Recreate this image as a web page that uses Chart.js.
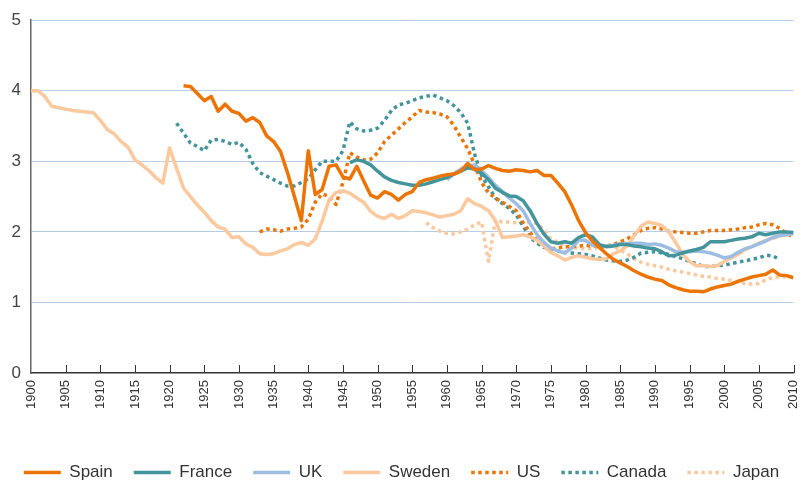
<!DOCTYPE html>
<html>
<head>
<meta charset="utf-8">
<script src="https://cdn.jsdelivr.net/npm/chart.js@4.4.0/dist/chart.umd.min.js"></script>
<style>
  html, body { margin: 0; padding: 0; background: #fff; }
</style>
</head>
<body>
<canvas id="fertilityChart" width="803" height="485"></canvas>
<script>
// Total fertility rate, births per woman
const xTicks = [1900, 1905, 1910, 1915, 1920, 1925, 1930, 1935, 1940, 1945, 1950, 1955,
  1960, 1965, 1970, 1975, 1980, 1985, 1990, 1995, 2000, 2005, 2010];
const yTicks = [0, 1, 2, 3, 4, 5];

const spainStart = 1922;
const spain = [
  4.07, 4.06, 3.96, 3.86, 3.92, 3.71, 3.81, 3.71,
  3.68, 3.57, 3.62, 3.55, 3.36, 3.28, 3.14, 2.84, 2.50, 2.16,
  3.15, 2.53, 2.60, 2.93, 2.95, 2.78, 2.75, 2.93, 2.72, 2.52,
  2.48, 2.57, 2.53, 2.45, 2.53, 2.57, 2.70, 2.74, 2.76, 2.79,
  2.81, 2.82, 2.86, 2.97, 2.88, 2.89, 2.94, 2.90, 2.87, 2.86,
  2.88, 2.87, 2.85, 2.87, 2.80, 2.80, 2.69, 2.57, 2.38, 2.16,
  1.99, 1.87, 1.78, 1.69, 1.61, 1.56, 1.51, 1.45, 1.40, 1.36,
  1.33, 1.31, 1.25, 1.21, 1.18, 1.16, 1.16, 1.15, 1.19, 1.22,
  1.24, 1.26, 1.30, 1.33, 1.36, 1.38, 1.40, 1.46, 1.39, 1.38, 1.35
];

const franceStart = 1946;
const france = [
  2.98, 3.02, 3.00, 2.95,
  2.86, 2.78, 2.73, 2.70, 2.68, 2.66, 2.66, 2.68, 2.71, 2.74,
  2.77, 2.82, 2.86, 2.91, 2.89, 2.83, 2.74, 2.62, 2.56, 2.51,
  2.50, 2.44, 2.30, 2.12, 1.97, 1.86, 1.84, 1.86, 1.84, 1.92,
  1.96, 1.93, 1.82, 1.79, 1.80, 1.82, 1.82, 1.80, 1.79, 1.77,
  1.76, 1.72, 1.66, 1.67, 1.70, 1.73, 1.75, 1.78, 1.86, 1.86,
  1.86, 1.88, 1.90, 1.91, 1.93, 1.98, 1.96, 1.98, 2.00, 2.00, 1.99
];

const ukStart = 1960;
const uk = [
  2.74, 2.82, 2.89, 2.93, 2.95, 2.87, 2.77, 2.66, 2.57, 2.48,
  2.40, 2.30, 2.12, 1.96, 1.85, 1.77, 1.73, 1.70, 1.77, 1.88,
  1.88, 1.81, 1.80, 1.80, 1.81, 1.83, 1.83, 1.84, 1.84, 1.82,
  1.83, 1.81, 1.77, 1.72, 1.71, 1.72, 1.73, 1.72, 1.70, 1.67,
  1.63, 1.65, 1.71, 1.76, 1.79, 1.83, 1.87, 1.92, 1.95, 1.96, 1.98
];

const swedenStart = 1900;
const sweden = [
  4.00, 4.00, 3.92, 3.78, 3.76, 3.74, 3.72, 3.71, 3.70, 3.69,
  3.58, 3.45, 3.39, 3.28, 3.20, 3.02, 2.95, 2.87, 2.77, 2.69,
  3.19, 2.90, 2.62, 2.50, 2.38, 2.28, 2.16, 2.07, 2.04, 1.92,
  1.93, 1.83, 1.78, 1.69, 1.68, 1.69, 1.73, 1.76, 1.82, 1.85,
  1.81, 1.90, 2.15, 2.45, 2.56, 2.58, 2.55, 2.48, 2.42, 2.29,
  2.22, 2.19, 2.25, 2.19, 2.23, 2.30, 2.29, 2.27, 2.24, 2.21,
  2.23, 2.25, 2.30, 2.47, 2.40, 2.36, 2.30, 2.16, 1.92, 1.93,
  1.94, 1.96, 1.93, 1.88, 1.80, 1.71, 1.66, 1.60, 1.64, 1.66,
  1.64, 1.62, 1.61, 1.62, 1.69, 1.73, 1.80, 1.94, 2.08, 2.14,
  2.12, 2.09, 2.00, 1.85, 1.68, 1.58, 1.52, 1.52, 1.51, 1.52,
  1.58, 1.63, 1.68, 1.75, 1.79, 1.84, 1.88, 1.91, 1.94, 1.96, 1.98
];

const usStart = 1933;
const us = [
  2.00, 2.04, 2.03, 2.01, 2.04, 2.05, 2.07,
  2.18, 2.42, 2.54, 2.50, 2.39, 2.70, 3.12, 3.06, 3.02, 3.03,
  3.12, 3.28, 3.37, 3.46, 3.55, 3.63, 3.72, 3.70, 3.69, 3.67,
  3.63, 3.51, 3.34, 3.18, 2.95, 2.70, 2.55, 2.48, 2.42, 2.36,
  2.30, 2.13, 1.99, 1.88, 1.80, 1.76, 1.77, 1.79, 1.79, 1.80,
  1.81, 1.80, 1.80, 1.80, 1.82, 1.86, 1.90, 1.96, 2.02, 2.05,
  2.06, 2.04, 2.01, 2.00, 1.99, 1.98, 1.98, 2.00, 2.02, 2.02,
  2.02, 2.03, 2.04, 2.06, 2.07, 2.10, 2.12, 2.10, 2.05, 1.98, 1.92
];

const canadaStart = 1921;
const canada = [
  3.54, 3.40, 3.26, 3.21, 3.15, 3.30, 3.31, 3.28, 3.24,
  3.27, 3.17, 2.97, 2.84, 2.79, 2.74, 2.69, 2.65, 2.65, 2.70,
  2.75, 2.88, 3.00, 3.00, 3.00, 3.15, 3.56, 3.46, 3.43, 3.44,
  3.47, 3.58, 3.72, 3.80, 3.82, 3.86, 3.90, 3.92, 3.94, 3.90,
  3.86, 3.79, 3.69, 3.54, 3.10, 2.80, 2.64, 2.48, 2.40, 2.33,
  2.24, 2.08, 1.92, 1.84, 1.78, 1.76, 1.73, 1.71, 1.70, 1.69,
  1.68, 1.66, 1.63, 1.60, 1.59, 1.58, 1.60, 1.64, 1.70, 1.71,
  1.72, 1.70, 1.68, 1.65, 1.62, 1.58, 1.55, 1.51, 1.51, 1.52,
  1.53, 1.55, 1.57, 1.59, 1.61, 1.63, 1.67, 1.66, 1.61
];

const japanStart = 1957;
const japan = [
  2.13, 2.06, 2.01,
  1.98, 1.97, 2.00, 2.04, 2.10, 2.14, 1.58, 2.17, 2.14, 2.14,
  2.13, 2.14, 2.14, 2.12, 2.03, 1.90, 1.85, 1.80, 1.78, 1.77,
  1.76, 1.76, 1.78, 1.79, 1.80, 1.74, 1.69, 1.62, 1.57, 1.54,
  1.52, 1.50, 1.47, 1.45, 1.43, 1.41, 1.39, 1.37, 1.36, 1.34,
  1.33, 1.31, 1.29, 1.27, 1.26, 1.27, 1.32, 1.35, 1.37, 1.36
];

const ORANGE = '#ec7404';
const TEAL = '#43959b';
const LIGHT_BLUE = '#9dbde2';
const PEACH = '#fcc89e';
const DOT = [3.5, 3.5];

//Turn a start year + values into {x, y} points
function toPoints(start, values) {
  return values.map((v, i) => ({ x: start + i, y: v }));
}

function series(label, start, values, color, dashed) {
  return {
    label: label,
    data: toPoints(start, values),
    borderColor: color,
    backgroundColor: color,
    borderWidth: 3.5,
    borderDash: dashed ? DOT : [],
    borderCapStyle: 'butt',
    borderJoinStyle: 'round',
    pointRadius: 0,
    tension: 0,
    fill: false
  };
}

//Legend entries drawn as short lines, dotted where the series is dotted
function legendLabels(chart) {
  return chart.data.datasets.map((ds, i) => ({
    text: ds.label,
    fillStyle: ds.borderColor,
    strokeStyle: ds.borderColor,
    lineWidth: ds.borderWidth,
    lineDash: ds.borderDash,
    lineCap: 'butt',
    pointStyle: 'line',
    fontColor: '#333',
    hidden: false,
    datasetIndex: i
  }));
}

//Short tick marks that point up into the plot from the x axis
const innerTicks = {
  id: 'innerTicks',
  afterDraw(chart) {
    const xScale = chart.scales.x;
    const ctx = chart.ctx;
    const bottom = chart.chartArea.bottom;
    ctx.save();
    ctx.strokeStyle = '#333';
    ctx.lineWidth = 1;
    xTicks.forEach(year => {
      if (year === xScale.min) return;
      const px = Math.round(xScale.getPixelForValue(year)) + 0.5;
      ctx.beginPath();
      ctx.moveTo(px, bottom - 8);
      ctx.lineTo(px, bottom);
      ctx.stroke();
    });
    ctx.restore();
  }
};

function createChart() {
  const ctx = document.getElementById('fertilityChart').getContext('2d');
  /* global Chart */
  return new Chart(ctx, {
    type: 'line',
    data: {
      datasets: [
        series('Spain', spainStart, spain, ORANGE, false),
        series('France', franceStart, france, TEAL, false),
        series('UK', ukStart, uk, LIGHT_BLUE, false),
        series('Sweden', swedenStart, sweden, PEACH, false),
        series('US', usStart, us, ORANGE, true),
        series('Canada', canadaStart, canada, TEAL, true),
        series('Japan', japanStart, japan, PEACH, true)
      ]
    },
    options: {
      responsive: false,
      animation: false,
      layout: { padding: { top: 18, right: 0, bottom: -6, left: 0 } },
      scales: {
        x: {
          type: 'linear',
          min: xTicks[0],
          max: xTicks[xTicks.length - 1],
          afterBuildTicks: scale => { scale.ticks = xTicks.map(v => ({ value: v })); },
          afterFit: scale => {
            scale.height = 70;
            scale.paddingLeft = 0;
            scale.paddingRight = 9.5;
          },
          grid: { display: false, drawTicks: false },
          border: { display: true, color: '#333', width: 1.5 },
          ticks: {
            autoSkip: false,
            minRotation: 90,
            maxRotation: 90,
            padding: 7,
            color: '#333',
            font: { family: 'Liberation Sans', size: 13 },
            callback: v => String(v)
          }
        },
        y: {
          min: yTicks[0],
          max: yTicks[yTicks.length - 1],
          afterBuildTicks: scale => { scale.ticks = yTicks.map(v => ({ value: v })); },
          afterFit: scale => { scale.width = 31; },
          grid: {
            drawTicks: false,
            lineWidth: 1,
            color: c => (c.tick && c.tick.value === 0 ? 'rgba(0,0,0,0)' : '#b6cde7')
          },
          border: { display: true, color: '#666', width: 1.5 },
          ticks: {
            padding: 10,
            color: '#444',
            font: { family: 'Liberation Sans', size: 17 },
            callback: v => String(v)
          }
        }
      },
      plugins: {
        tooltip: { enabled: false },
        legend: {
          position: 'bottom',
          labels: {
            usePointStyle: true,
            pointStyleWidth: 37,
            padding: 21,
            color: '#333',
            font: { family: 'Liberation Sans', size: 17 },
            generateLabels: legendLabels
          }
        }
      }
    },
    plugins: [innerTicks]
  });
}

document.addEventListener('DOMContentLoaded', createChart);
</script>
</body>
</html>
